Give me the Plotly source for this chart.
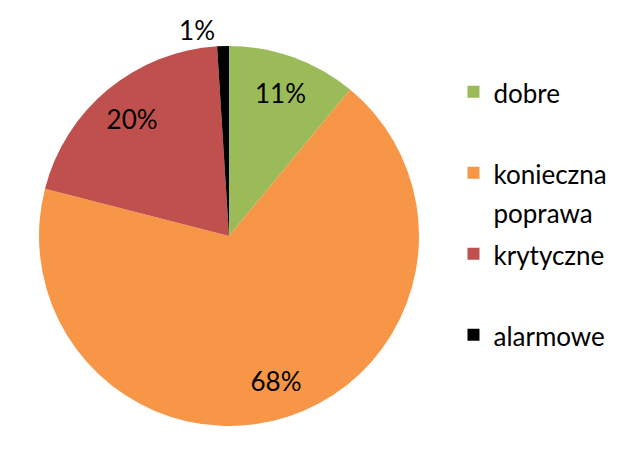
import plotly.graph_objects as go

labels = ["dobre", "konieczna", "krytyczne", "alarmowe"]
legend_names = ["dobre<br> ", "konieczna<br>poprawa", "krytyczne<br> ", "alarmowe"]
values = [11, 68, 20, 1]
colors = ["#9BBB59", "#F79646", "#C0504D", "#000000"]
text_pos = ["inside", "inside", "inside", "outside"]

# page body has an 8px margin, shift the domain back by that
off_x, off_y = 8 / 631, 8 / 473
dom = dict(x=[39 / 631 - off_x, 419 / 631 - off_x], y=[47 / 473 + off_y, 427 / 473 + off_y])

fig = go.Figure()
# filled pie with the legend
fig.add_trace(go.Pie(
    labels=[f"<span style='font-size:26px'>{n}</span>" for n in legend_names],
    values=values,
    sort=False,
    direction="clockwise",
    rotation=0,
    marker=dict(colors=colors, line=dict(width=0)),
    textinfo="none",
    domain=dom,
    hoverinfo="skip",
))
# transparent ring on top carrying the percent labels
fig.add_trace(go.Pie(
    labels=labels,
    values=values,
    sort=False,
    direction="clockwise",
    rotation=0,
    hole=0.6,
    marker=dict(colors=["rgba(0,0,0,0)"] * 4, line=dict(width=0)),
    texttemplate="%{percent:.0%}",
    textposition=text_pos,
    insidetextorientation="horizontal",
    textfont=dict(family="Lato", size=26, color="black"),
    domain=dom,
    showlegend=False,
    hoverinfo="skip",
))

fig.update_layout(
    width=631,
    height=473,
    margin=dict(l=0, r=0, t=0, b=0),
    paper_bgcolor="white",
    font=dict(family="Lato", size=26, color="black"),
    legend=dict(x=0.706, y=0.878, xanchor="left", yanchor="top", valign="top",
                font=dict(family="Lato", size=30), itemwidth=30),
)

fig.write_html("out.html")
